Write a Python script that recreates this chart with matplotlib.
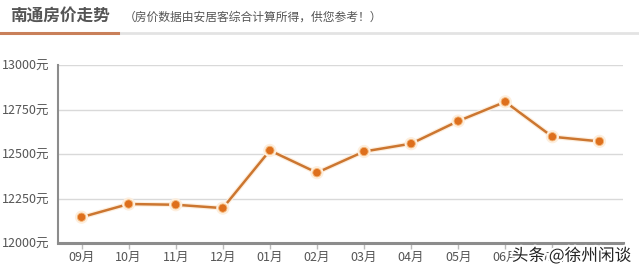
import matplotlib.pyplot as plt
import matplotlib.patheffects as pe
from matplotlib.lines import Line2D

plt.rcParams['font.family'] = ['Noto Sans CJK SC', 'DejaVu Sans']

# 数据
months = ['09月', '10月', '11月', '12月', '01月', '02月', '03月', '04月', '05月', '06月', '07月', '08月']
prices = [12145, 12219, 12215, 12196, 12520, 12395, 12514, 12558, 12685, 12793, 12597, 12571]
y_ticks = [12000, 12250, 12500, 12750, 13000]

line_color = '#cc7630'
marker_color = '#de6f1c'

fig = plt.figure(figsize=(6.39, 2.72), dpi=100)
ax = fig.add_axes([58 / 639, 1 - 243 / 272, (623 - 58) / 639, (243 - 65) / 272])

x = list(range(len(months)))
ax.plot(x, prices, color=line_color, lw=1.8, marker='o', markersize=6,
        markerfacecolor=marker_color, markeredgecolor='#f3b77a', markeredgewidth=0.6,
        path_effects=[pe.Stroke(linewidth=3.5, foreground='#fdeedd'), pe.Normal()],
        zorder=3)

ax.set_xlim(-0.5, len(months) - 0.5)
ax.set_ylim(12000, 13000)
ax.set_xticks(x)
ax.set_xticklabels(months)
ax.set_yticks(y_ticks)
ax.set_yticklabels([f'{v}元' for v in y_ticks])

ax.grid(axis='y', color='#d9d9d9', lw=1)
ax.set_axisbelow(True)
for s in ['top', 'right']:
    ax.spines[s].set_visible(False)
ax.spines['left'].set_color('#8c8c8c')
ax.spines['left'].set_linewidth(1.5)
ax.spines['bottom'].set_color('#8c8c8c')
ax.spines['bottom'].set_linewidth(2.2)
ax.tick_params(axis='y', length=0, labelsize=9, colors='#555555', pad=6)
ax.tick_params(axis='x', length=4, width=1, color='#bbbbbb', labelsize=9,
               labelcolor='#555555', pad=2)

# 标题
fig.text(10 / 639, 1 - 17 / 272, '南通房价走势', fontsize=12, fontweight='bold',
         color='#555555', va='center', ha='left')
fig.text(124 / 639, 1 - 17 / 272, '（房价数据由安居客综合计算所得，供您参考！）',
         fontsize=8.5, color='#555555', va='center', ha='left')
fig.add_artist(Line2D([118 / 639, 1], [1 - 33 / 272] * 2, color='#e3e3e3', lw=2))
fig.add_artist(Line2D([0, 118 / 639], [1 - 33 / 272] * 2, color='#c9805a', lw=2.2))

# 水印
fig.text(631 / 639, 1 - 256 / 272, '头条 @徐州闲谈', fontsize=12, color='#222222',
         ha='right', va='center',
         path_effects=[pe.withStroke(linewidth=3, foreground='white')])

fig.savefig('out.png', dpi=100)
